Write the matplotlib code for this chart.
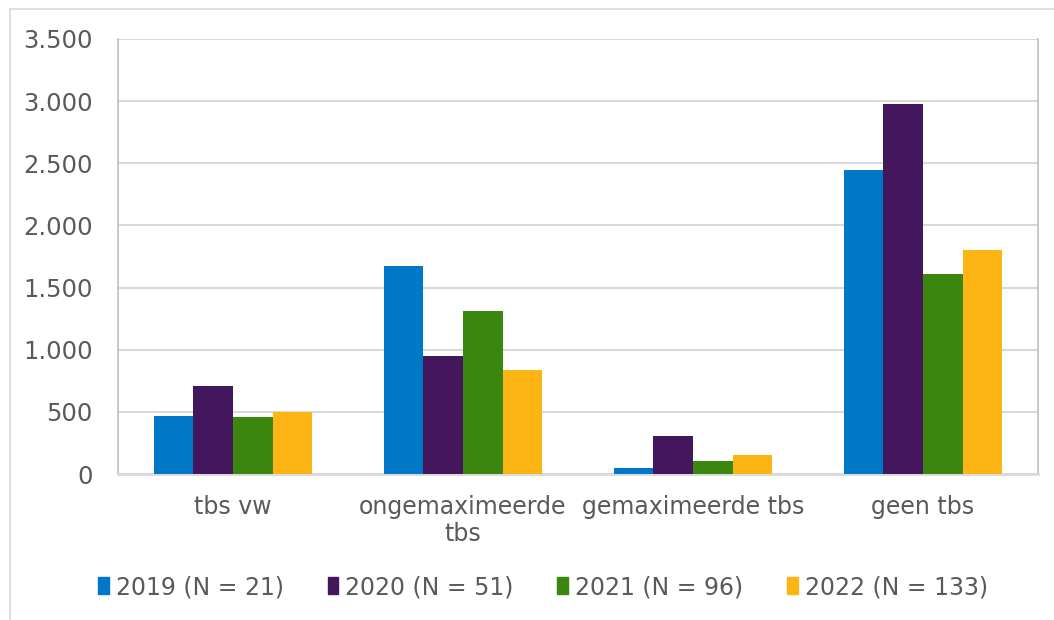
import matplotlib.pyplot as plt
import matplotlib.patches as mpatches
import numpy as np
from matplotlib.ticker import FuncFormatter

categories = ['tbs vw', 'ongemaximeerde\ntbs', 'gemaximeerde tbs', 'geen tbs']
series_names = ['2019 (N = 21)', '2020 (N = 51)', '2021 (N = 96)', '2022 (N = 133)']
v2019 = [467, 1673, 51, 2448]
v2020 = [708, 947, 303, 2974]
v2021 = [461, 1309, 107, 1612]
v2022 = [496, 834, 153, 1802]
colors = ['#0078C8', '#43165E', '#3A860E', '#FDB515']

TEXT = '#595959'
GRID = '#D9D9D9'

fig = plt.figure(figsize=(10.54, 6.2), dpi=100)
ax = fig.add_axes([118 / 1054, 1 - 474 / 620, 920 / 1054, 435 / 620])

x = np.arange(len(categories))
width = 0.172
for i, vals in enumerate([v2019, v2020, v2021, v2022]):
    ax.bar(x + (i - 1.5) * width, vals, width, color=colors[i],
           label=series_names[i], zorder=3, linewidth=0)

ax.set_xlim(-0.5, 3.5)
ax.set_ylim(0, 3500)
ax.set_yticks(np.arange(0, 3501, 500))
ax.yaxis.set_major_formatter(FuncFormatter(lambda v, p: f'{int(v):,}'.replace(',', '.')))
ax.grid(axis='y', color=GRID, linewidth=1.5, zorder=0)
ax.set_xticks(x)
ax.set_xticklabels(categories, linespacing=1.15)
ax.tick_params(axis='both', length=0, colors=TEXT)
ax.tick_params(axis='y', pad=18, labelsize=17.5)
ax.tick_params(axis='x', pad=15, labelsize=17)
for s in ['left', 'right', 'bottom']:
    ax.spines[s].set_color('#BFBFBF')
    ax.spines[s].set_linewidth(1.2)
ax.spines['bottom'].set_color(GRID)
ax.spines['bottom'].set_linewidth(2)
ax.spines['top'].set_visible(False)

# outer chart border
fig.patches.append(mpatches.Rectangle((10 / 1054, -0.1), 1.2, 1 - 9 / 620 + 0.1,
                                      transform=fig.transFigure, fill=False,
                                      edgecolor='#D9D9D9', linewidth=1.2))

handles = [mpatches.Patch(color=c) for c in colors]
fig.legend(handles, series_names, loc='center', bbox_to_anchor=(543 / 1054, 1 - 587 / 620),
           ncol=4, frameon=False, fontsize=17, labelcolor=TEXT,
           handlelength=0.45, handleheight=0.75, handletextpad=0.3, columnspacing=1.85)

fig.savefig('out.png', dpi=100)
